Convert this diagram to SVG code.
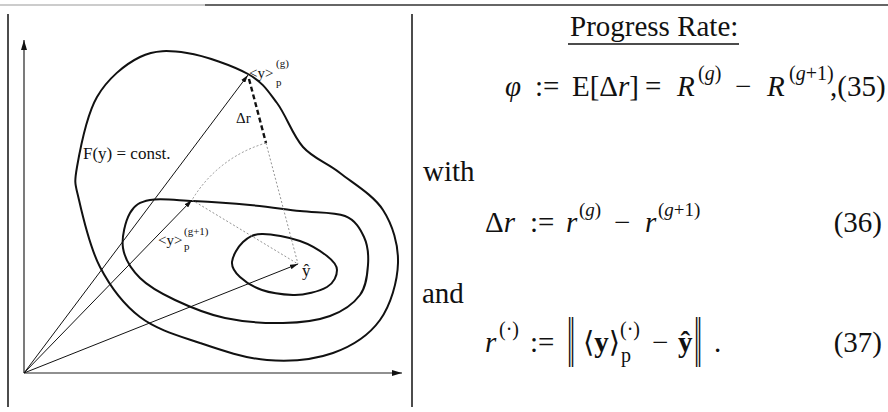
<svg xmlns="http://www.w3.org/2000/svg" width="888" height="412" viewBox="0 0 888 412">
<style>
.c{fill:none;stroke:#111;stroke-width:2}
.v{fill:none;stroke:#111;stroke-width:1}
.d{fill:none;stroke:#888;stroke-width:0.9;stroke-dasharray:2,2}
.t{font-family:"Liberation Serif","DejaVu Serif",serif;fill:#111}
.i{font-style:italic}
.b{font-weight:bold}
</style>
<defs>
<marker id="ah" viewBox="0 0 10 6" refX="10" refY="3" markerWidth="8" markerHeight="5" markerUnits="userSpaceOnUse" orient="auto"><path d="M0,0 L10,3 L0,6 Z" fill="#111"/></marker>
<marker id="ax" viewBox="0 0 10 6" refX="10" refY="3" markerWidth="10" markerHeight="6" markerUnits="userSpaceOnUse" orient="auto"><path d="M0,0 L10,3 L0,6 Z" fill="#111"/></marker>
</defs>
<g id="frame">
<line x1="0" y1="5" x2="205" y2="5" stroke="#999" stroke-width="1"/>
<line x1="205" y1="5" x2="888" y2="5" stroke="#333" stroke-width="1.5"/>
<line x1="8" y1="14" x2="8" y2="407" stroke="#111" stroke-width="1.5"/>
<line x1="412" y1="14" x2="412" y2="407" stroke="#111" stroke-width="1.5"/>
</g>
<g id="axes">
<line x1="24" y1="373" x2="24" y2="40" stroke="#222" stroke-width="1.2" marker-end="url(#ax)"/>
<line x1="24" y1="373" x2="402" y2="373" stroke="#222" stroke-width="1.2" marker-end="url(#ax)"/>
</g>
<g id="contour-outer"><path class="c" d="M77,167 C80,149.8 86.5,115.3 97,97 C107.5,78.7 125,64.3 140,57 C155,49.7 169,50.2 187,53 C205,55.8 233,65.7 248,74 C263,82.3 267.8,90.8 277,103 C286.2,115.2 292.5,135.3 303,147 C313.5,158.7 326.7,162.5 340,173 C353.3,183.5 373.3,195 383,210 C392.7,225 398.5,244.7 398,263 C397.5,281.3 390.8,305 380,320 C369.2,335 351.8,346.3 333,353 C314.2,359.7 289.2,361.7 267,360 C244.8,358.3 221.2,350.2 200,343 C178.8,335.8 156.7,329.7 140,317 C123.3,304.3 110.2,286.5 100,267 C89.8,247.5 82.8,216.7 79,200 C75.2,183.3 74,184.2 77,167 Z"/></g>
<g id="contour-middle"><path class="c" d="M150,200 C160.5,198 176.3,200.2 193,201 C209.7,201.8 232.2,203.3 250,205 C267.8,206.7 284.2,209.2 300,211 C315.8,212.8 334.3,211.7 345,216 C355.7,220.3 360.2,228.8 364,237 C367.8,245.2 368.7,255.3 368,265 C367.3,274.7 366.3,286.5 360,295 C353.7,303.5 342.8,311.3 330,316 C317.2,320.7 300.5,322.7 283,323 C265.5,323.3 243,321.8 225,318 C207,314.2 189.2,306.7 175,300 C160.8,293.3 148.7,286.7 140,278 C131.3,269.3 124.7,258.8 123,248 C121.3,237.2 125.5,221 130,213 C134.5,205 139.5,202 150,200 Z"/></g>
<g id="contour-inner"><path class="c" d="M232,262 C232.5,256.2 238,246.7 243,242 C248,237.3 252.5,234.2 262,234 C271.5,233.8 289.2,237.3 300,241 C310.8,244.7 320.8,251.2 327,256 C333.2,260.8 337,264.8 337,270 C337,275.2 334.3,282.8 327,287 C319.7,291.2 303.8,295.5 293,295 C282.2,294.5 270.8,293 262,290 C253.2,287 245,281.7 240,277 C235,272.3 231.5,267.8 232,262 Z"/></g>
<g id="connectors">
<line class="v" x1="24" y1="373" x2="248" y2="75" marker-end="url(#ah)"/>
<line class="v" x1="24" y1="373" x2="192" y2="200" marker-end="url(#ah)"/>
<line class="v" x1="24" y1="373" x2="298" y2="264" marker-end="url(#ah)"/>
<line x1="249" y1="79" x2="266" y2="143" stroke="#111" stroke-width="2.4" stroke-dasharray="5,3"/>
<line class="d" x1="266" y1="143" x2="298" y2="264"/>
<line class="d" x1="192" y1="200" x2="298" y2="264"/>
<path class="d" d="M266,143 A127,127 0 0 0 192,200"/>
</g>
<g id="labels-left">
<text class="t" x="83" y="159" font-size="17">F(y) = const.</text>
<text class="t" x="236" y="123" font-size="15">Δr</text>
<text class="t" x="249" y="78" font-size="15">&lt;y&gt;</text>
<text class="t" x="276" y="67" font-size="11">(g)</text>
<text class="t" x="276" y="86" font-size="11">p</text>
<text class="t" x="158" y="245" font-size="15">&lt;y&gt;</text>
<text class="t" x="184" y="235" font-size="11">(g+1)</text>
<text class="t" x="184" y="250" font-size="11">p</text>
<text class="t" x="302" y="276" font-size="17">ŷ</text>
</g>
<g id="title">
<text class="t" x="570" y="36" font-size="29">Progress Rate:</text>
<line x1="568" y1="44" x2="739" y2="44" stroke="#111" stroke-width="1.5"/>
</g>
<g id="eq35">
<text class="t" y="96" font-size="29"><tspan x="505" class="i">φ</tspan><tspan x="535">:=</tspan><tspan x="572">E[Δ</tspan><tspan class="i">r</tspan><tspan>]</tspan><tspan x="645">=</tspan><tspan x="677" class="i">R</tspan><tspan x="735">−</tspan><tspan x="767" class="i">R</tspan><tspan x="830">,(35)</tspan></text>
<text class="t" y="80" font-size="20"><tspan x="698">(</tspan><tspan class="i">g</tspan><tspan>)</tspan><tspan x="789">(</tspan><tspan class="i">g</tspan><tspan>+1)</tspan></text>
</g>
<g id="with"><text class="t" x="423" y="181" font-size="29">with</text></g>
<g id="eq36">
<text class="t" y="232" font-size="29"><tspan x="485">Δ</tspan><tspan class="i">r</tspan><tspan x="530">:=</tspan><tspan x="566" class="i">r</tspan><tspan x="614">−</tspan><tspan x="645" class="i">r</tspan></text>
<text class="t" y="216" font-size="19"><tspan x="579">(</tspan><tspan class="i">g</tspan><tspan>)</tspan><tspan x="658">(</tspan><tspan class="i">g</tspan><tspan>+1)</tspan></text>
<text class="t" x="882" y="232" font-size="29" text-anchor="end">(36)</text>
</g>
<g id="and"><text class="t" x="422" y="303" font-size="29">and</text></g>
<g id="eq37">
<text class="t" y="352" font-size="29"><tspan x="485" class="i">r</tspan><tspan x="530">:=</tspan><tspan x="583">⟨</tspan><tspan class="b">y</tspan><tspan>⟩</tspan><tspan x="652">−</tspan><tspan x="678" class="b">ŷ</tspan><tspan x="714">.</tspan></text>
<text class="t" y="336" font-size="20"><tspan x="499">(·)</tspan><tspan x="620">(·)</tspan></text>
<text class="t" x="621" y="362" font-size="20">p</text>
<text class="t" font-size="29" transform="translate(567,367) scale(1,2.45)">‖</text>
<text class="t" font-size="29" transform="translate(694,367) scale(1,2.45)">‖</text>
<text class="t" x="882" y="352" font-size="29" text-anchor="end">(37)</text>
</g>
</svg>
